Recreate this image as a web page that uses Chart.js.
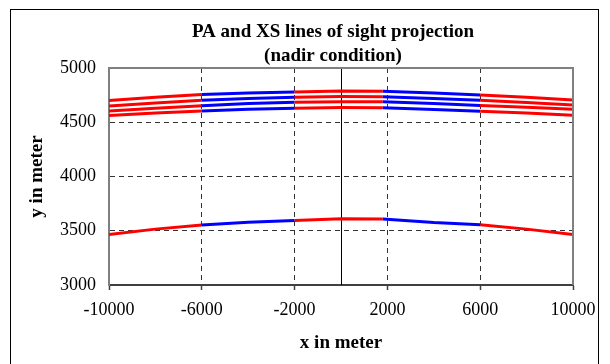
<!DOCTYPE html>
<html><head><meta charset="utf-8">
<script src="https://cdn.jsdelivr.net/npm/chart.js@4/dist/chart.umd.min.js"></script>
<style>html,body{margin:0;padding:0;background:#fff}</style>
</head><body>
<canvas id="c" width="610" height="364"></canvas>
<script>
// ---- data ----
const xPositions = [-10000, -8000, -6000, -4000, -2000, 0, 1800, 4000, 6000, 8000, 10000];
const losLine1 = [4700, 4730, 4755, 4770, 4778, 4788, 4786, 4770, 4752, 4730, 4705];
const losLine2 = [4650, 4678, 4702, 4720, 4730, 4737, 4735, 4720, 4702, 4682, 4659];
const losLine3 = [4604, 4630, 4653, 4672, 4684, 4690, 4688, 4672, 4655, 4638, 4619];
const losLine4 = [4562, 4585, 4604, 4620, 4629, 4635, 4633, 4618, 4602, 4585, 4565];
const losLow   = [3465, 3515, 3553, 3578, 3595, 3610, 3608, 3575, 3555, 3515, 3465];
const blueZones = [[-6000, -2000], [1800, 6000]];
const xRange = [-10000, 10000];
const xStep = 4000;
const yRange = [3000, 5000];
const yStep = 500;
const titleLines = ['PA and XS lines of sight projection', '(nadir condition)'];
const xTitle = 'x in meter';
const yTitle = 'y in meter';

const RED = '#ff0000', BLUE = '#0000ff';
const FONT = "'Liberation Serif', 'Times New Roman', serif";

function toPoints(ys) { return xPositions.map((x, i) => ({x: x, y: ys[i]})); }
function inBlue(x) { return blueZones.some(z => x > z[0] && x < z[1]); }
function mkDataset(ys) {
  return {
    data: toPoints(ys), showLine: true, pointRadius: 0, borderWidth: 3,
    borderColor: RED, fill: false,
    segment: { borderColor: c => inBlue((c.p0.parsed.x + c.p1.parsed.x) / 2) ? BLUE : RED }
  };
}

const framePlugin = {
  id: 'frame',
  beforeDraw(chart) {
    const ctx = chart.ctx;
    ctx.save();
    ctx.fillStyle = '#fff';
    ctx.fillRect(0, 0, chart.width, chart.height);
    ctx.strokeStyle = '#000';
    ctx.lineWidth = 1;
    ctx.strokeRect(10.5, 9.5, 588, 420);
    // chart title
    ctx.fillStyle = '#000';
    ctx.font = "bold 19px " + FONT;
    ctx.textAlign = 'center';
    ctx.textBaseline = 'middle';
    titleLines.forEach((t, i) => ctx.fillText(t, 333, 32 + i * 24));
    ctx.restore();
  },
  beforeDatasetsDraw(chart) {
    const ctx = chart.ctx, a = chart.chartArea;
    const x0 = Math.round(chart.scales.x.getPixelForValue(0)) + 0.5;
    ctx.save();
    ctx.strokeStyle = '#000';
    ctx.lineWidth = 1;
    ctx.beginPath(); ctx.moveTo(x0, a.top); ctx.lineTo(x0, a.bottom); ctx.stroke();
    ctx.restore();
  },
  afterDraw(chart) {
    const ctx = chart.ctx, a = chart.chartArea;
    ctx.save();
    ctx.strokeStyle = '#808080';
    ctx.lineWidth = 2;
    ctx.beginPath();
    ctx.moveTo(a.left, a.top); ctx.lineTo(a.right, a.top); ctx.lineTo(a.right, a.bottom);
    ctx.stroke();
    ctx.restore();
  }
};

const edgeTransparent = (c, lo, hi) => (c.tick && (c.tick.value === lo || c.tick.value === hi)) ? 'rgba(0,0,0,0)' : '#333';
const plainNum = v => String(v);

new Chart(document.getElementById('c'), {
  type: 'scatter',
  data: { datasets: [mkDataset(losLine1), mkDataset(losLine2), mkDataset(losLine3), mkDataset(losLine4), mkDataset(losLow)] },
  options: {
    responsive: false, animation: false, devicePixelRatio: 1,
    layout: { padding: { left: 0, right: 37, top: 68, bottom: 0 } },
    plugins: { legend: { display: false }, tooltip: { enabled: false }, title: { display: false } },
    scales: {
      x: {
        type: 'linear', min: xRange[0], max: xRange[1],
        afterFit: s => { s.height = 79; },
        ticks: { stepSize: xStep, color: '#000', font: { family: FONT, size: 18 }, padding: 9, maxRotation: 0, callback: plainNum },
        grid: { color: c => edgeTransparent(c, xRange[0], xRange[1]), lineWidth: 1, drawTicks: true, tickLength: 5, tickColor: '#404040', tickWidth: 1.5, tickBorderDash: [] },
        border: { display: true, color: '#404040', width: 2, dash: [5, 4] },
        title: { display: true, text: xTitle, color: '#000', font: { family: FONT, size: 19, weight: 'bold' }, padding: { top: 0, bottom: 10 } }
      },
      y: {
        type: 'linear', min: yRange[0], max: yRange[1],
        afterFit: s => { s.width = 109; },
        ticks: { stepSize: yStep, color: '#000', font: { family: FONT, size: 18 }, padding: 13, callback: plainNum },
        grid: { color: c => edgeTransparent(c, yRange[0], yRange[1]), lineWidth: 1, drawTicks: false },
        border: { display: true, color: '#808080', width: 2, dash: [5, 4] },
        title: { display: true, text: yTitle, color: '#000', font: { family: FONT, size: 19, weight: 'bold' }, padding: { top: 26, bottom: 0 } }
      }
    }
  },
  plugins: [framePlugin]
});
</script>
</body></html>
